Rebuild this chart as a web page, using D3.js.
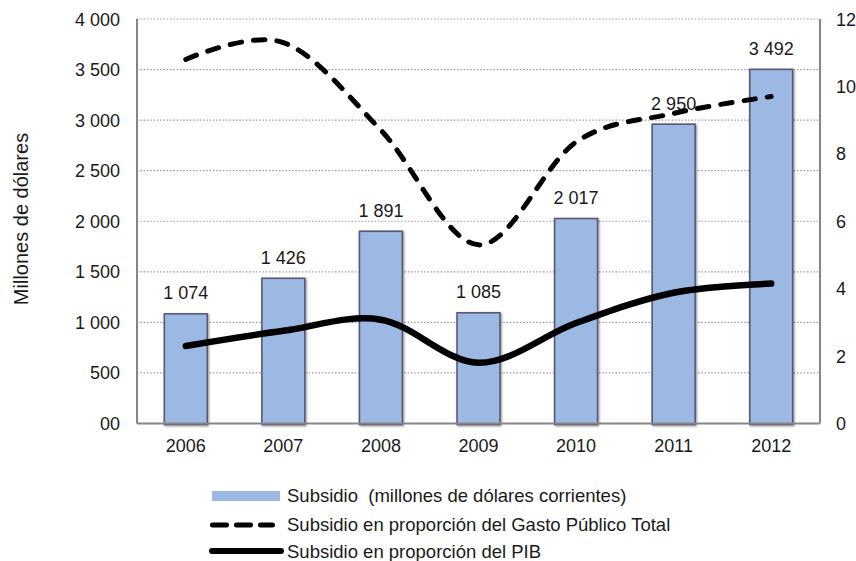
<!DOCTYPE html>
<html>
<head>
<meta charset="utf-8">
<script src="https://cdn.jsdelivr.net/npm/d3@7"></script>
<style>
  html, body { margin: 0; padding: 0; background: #fff; }
  svg { display: block; font-family: "Liberation Sans", Arial, sans-serif; }
</style>
</head>
<body>
<svg id="chart" width="856" height="561"></svg>
<script>
// Subsidio: montos anuales (millones de dólares) y proporciones (%)
const years = ["2006", "2007", "2008", "2009", "2010", "2011", "2012"];
const subsidio = [1074, 1426, 1891, 1085, 2017, 2950, 3492];
const pctGasto = [10.8, 11.3, 8.7, 5.3, 8.35, 9.2, 9.7];
const pctPIB = [2.3, 2.75, 3.08, 1.8, 2.98, 3.88, 4.15];
const leftTicks = [0, 500, 1000, 1500, 2000, 2500, 3000, 3500, 4000];
const leftTickLabels = ["00", "500", "1 000", "1 500", "2 000", "2 500", "3 000", "3 500", "4 000"];
const rightTicks = [0, 2, 4, 6, 8, 10, 12];
const legendLabels = [
  "Subsidio  (millones de dólares corrientes)",
  "Subsidio en proporción del Gasto Público Total",
  "Subsidio en proporción del PIB"
];

const svg = d3.select("#chart");
const m = { left: 137, right: 820, top: 19, bottom: 423.5 };
const FS = 18;

const x = d3.scaleBand().domain(years).range([m.left, m.right])
  .paddingInner(0.56).paddingOuter(0.28);
const yL = d3.scaleLinear().domain([0, 4000]).range([m.bottom, m.top]);
const yR = d3.scaleLinear().domain([0, 12]).range([m.bottom, m.top]);

const fmt = v => d3.format(",")(v).replace(/,/g, " ");

// Dotted gridlines
svg.append("g").selectAll("line").data(leftTicks.slice(1)).join("line")
  .attr("x1", m.left).attr("x2", m.right)
  .attr("y1", d => yL(d)).attr("y2", d => yL(d))
  .attr("stroke", "#9a9a9a").attr("stroke-width", 1.2)
  .attr("stroke-dasharray", "1.5,1.8");

// Soft bar shadow
const defs = svg.append("defs");
const f = defs.append("filter").attr("id", "shadow").attr("x", "-20%").attr("y", "-5%")
  .attr("width", "140%").attr("height", "110%");
f.append("feGaussianBlur").attr("in", "SourceAlpha").attr("stdDeviation", 1.2).attr("result", "b");
f.append("feOffset").attr("in", "b").attr("dx", 0.8).attr("dy", 0.8).attr("result", "o");
f.append("feComponentTransfer").attr("in", "o").attr("result", "s")
  .append("feFuncA").attr("type", "linear").attr("slope", 0.45);
const fm = f.append("feMerge");
fm.append("feMergeNode").attr("in", "s");
fm.append("feMergeNode").attr("in", "SourceGraphic");

// Bars
svg.append("g").selectAll("rect").data(years).join("rect")
  .attr("x", d => x(d))
  .attr("y", (d, i) => yL(subsidio[i]) - 1)
  .attr("width", x.bandwidth())
  .attr("height", (d, i) => yL(0) - yL(subsidio[i]) + 2)
  .attr("fill", "#9cb9e3")
  .attr("stroke", "#58587a").attr("stroke-width", 1.6)
  .attr("filter", "url(#shadow)");

// Bar value labels
svg.append("g").selectAll("text").data(years).join("text")
  .attr("x", d => x(d) + x.bandwidth() / 2)
  .attr("y", (d, i) => yL(subsidio[i]) - 15.5)
  .attr("text-anchor", "middle").attr("font-size", FS).attr("fill", "#1a1a1a")
  .text((d, i) => fmt(subsidio[i]));

// Axis frame lines
const frame = svg.append("g").attr("stroke", "#868686").attr("stroke-width", 2);
frame.append("line").attr("x1", m.left).attr("x2", m.left).attr("y1", m.top).attr("y2", m.bottom);
frame.append("line").attr("x1", m.right).attr("x2", m.right).attr("y1", m.top).attr("y2", m.bottom);
frame.append("line").attr("x1", m.left).attr("x2", m.right).attr("y1", m.bottom).attr("y2", m.bottom);

// Left axis labels
svg.append("g").selectAll("text").data(leftTicks).join("text")
  .attr("x", 120).attr("y", d => yL(d) + 6.5)
  .attr("text-anchor", "end").attr("font-size", FS).attr("fill", "#1a1a1a")
  .text((d, i) => leftTickLabels[i]);

// Right axis labels
svg.append("g").selectAll("text").data(rightTicks).join("text")
  .attr("x", 836).attr("y", d => yR(d) + 6.5)
  .attr("text-anchor", "start").attr("font-size", FS).attr("fill", "#1a1a1a")
  .text(d => d);

// Category labels
svg.append("g").selectAll("text").data(years).join("text")
  .attr("x", d => x(d) + x.bandwidth() / 2).attr("y", 452)
  .attr("text-anchor", "middle").attr("font-size", FS).attr("fill", "#1a1a1a")
  .text(d => d);

// Y axis title
svg.append("text")
  .attr("transform", "translate(27.5,219) rotate(-90)")
  .attr("text-anchor", "middle").attr("font-size", 20).attr("fill", "#1a1a1a")
  .text("Millones de dólares");

// Smoothed lines
const cx = d => x(d) + x.bandwidth() / 2;
const smooth = d3.line().x((d, i) => cx(years[i])).y(d => yR(d))
  .curve(d3.curveCatmullRom.alpha(0));
svg.append("path").datum(pctGasto)
  .attr("d", smooth)
  .attr("fill", "none").attr("stroke", "#000").attr("stroke-width", 5)
  .attr("stroke-linecap", "round").attr("stroke-dasharray", "11.5,12");

svg.append("path").datum(pctPIB)
  .attr("d", smooth)
  .attr("fill", "none").attr("stroke", "#000").attr("stroke-width", 6.5)
  .attr("stroke-linecap", "round").attr("stroke-linejoin", "round");

// Legend
const lg = svg.append("g");
const rowY = [496, 525, 551];
const rowBase = [502, 531, 557.5];
lg.append("rect").attr("x", 212).attr("y", rowY[0] - 5).attr("width", 68).attr("height", 10)
  .attr("fill", "#9cb9e3");
lg.append("line").attr("x1", 212.5).attr("x2", 272.5).attr("y1", rowY[1]).attr("y2", rowY[1])
  .attr("stroke", "#000").attr("stroke-width", 5).attr("stroke-linecap", "round")
  .attr("stroke-dasharray", "14,10");
lg.append("line").attr("x1", 212).attr("x2", 281).attr("y1", rowY[2]).attr("y2", rowY[2])
  .attr("stroke", "#000").attr("stroke-width", 6).attr("stroke-linecap", "round");
lg.selectAll("text").data(legendLabels).join("text")
  .attr("x", 287).attr("y", (d, i) => rowBase[i])
  .attr("font-size", 18.5).attr("fill", "#1a1a1a")
  .attr("xml:space", "preserve").style("white-space", "pre")
  .text(d => d);
</script>
</body>
</html>
